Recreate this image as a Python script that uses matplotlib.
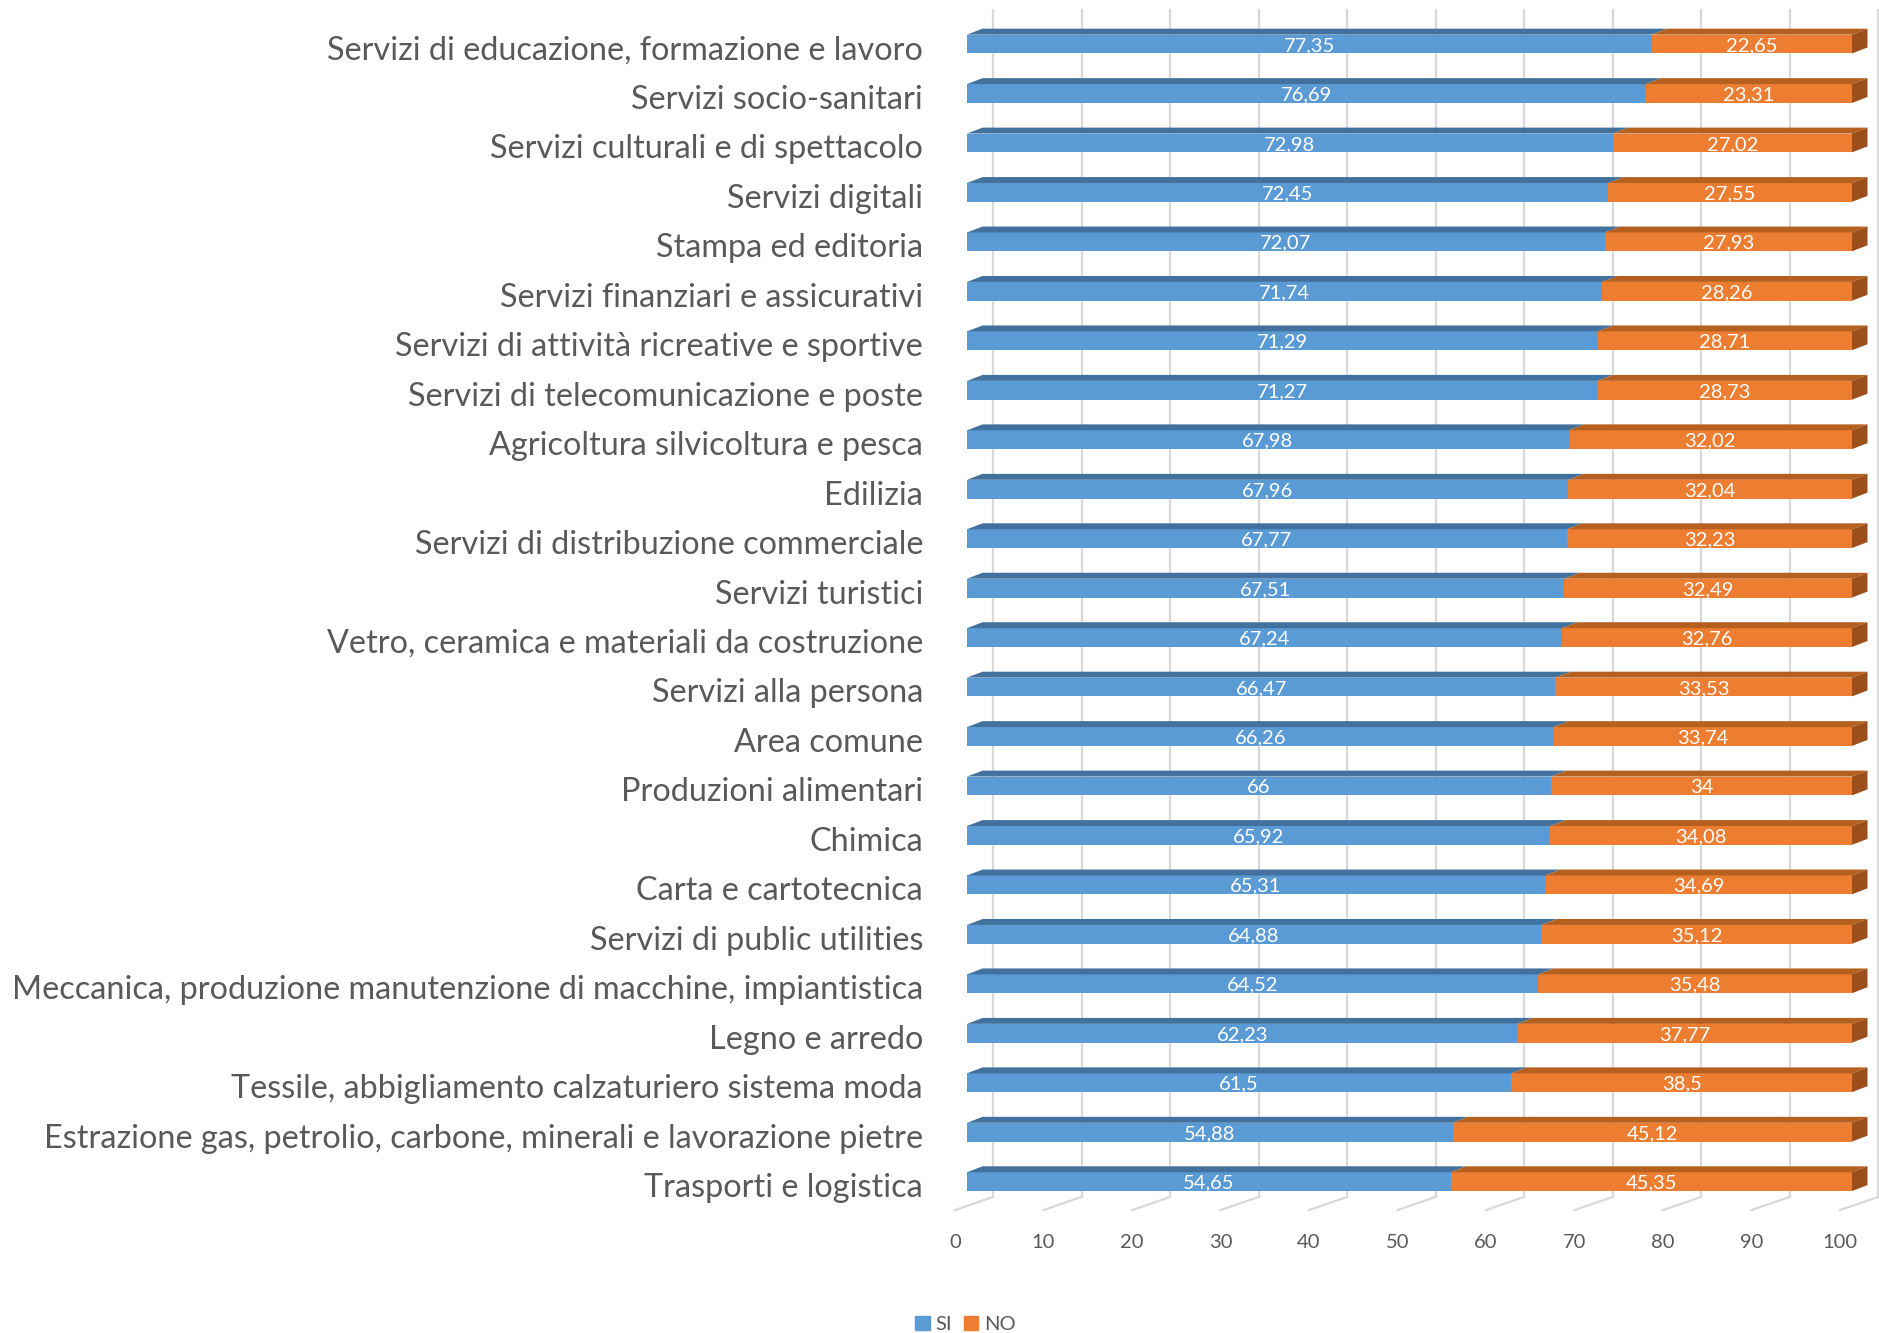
import matplotlib
matplotlib.use("Agg")
import matplotlib.pyplot as plt
from matplotlib.patches import Polygon, Patch

plt.rcParams["font.family"] = ["Lato", "DejaVu Sans"]

categories = [
    "Servizi di educazione, formazione e lavoro",
    "Servizi socio-sanitari",
    "Servizi culturali e di spettacolo",
    "Servizi digitali",
    "Stampa ed editoria",
    "Servizi finanziari e assicurativi",
    "Servizi di attività ricreative e sportive",
    "Servizi di telecomunicazione e poste",
    "Agricoltura silvicoltura e pesca",
    "Edilizia",
    "Servizi di distribuzione commerciale",
    "Servizi turistici",
    "Vetro, ceramica e materiali da costruzione",
    "Servizi alla persona",
    "Area comune",
    "Produzioni alimentari",
    "Chimica",
    "Carta e cartotecnica",
    "Servizi di public utilities",
    "Meccanica, produzione manutenzione di macchine, impiantistica",
    "Legno e arredo",
    "Tessile, abbigliamento calzaturiero sistema moda",
    "Estrazione gas, petrolio, carbone, minerali e lavorazione pietre",
    "Trasporti e logistica",
]
si = [77.35, 76.69, 72.98, 72.45, 72.07, 71.74, 71.29, 71.27, 67.98, 67.96,
      67.77, 67.51, 67.24, 66.47, 66.26, 66, 65.92, 65.31, 64.88, 64.52,
      62.23, 61.5, 54.88, 54.65]
no = [22.65, 23.31, 27.02, 27.55, 27.93, 28.26, 28.71, 28.73, 32.02, 32.04,
      32.23, 32.49, 32.76, 33.53, 33.74, 34, 34.08, 34.69, 35.12, 35.48,
      37.77, 38.5, 45.12, 45.35]
ticks = [0, 10, 20, 30, 40, 50, 60, 70, 80, 90, 100]

BLUE, BLUE_TOP = "#5B9BD5", "#41719C"
ORANGE, ORANGE_TOP, ORANGE_SIDE = "#ED7D31", "#B5601F", "#9C4F1B"
GRID = "#D9D9D9"
TEXT = "#595959"

# fake 3D depth, in data units
bar_h = 0.38
bar_dx, bar_dy = 1.75, 0.12
back_dx = 2.94
floor_front_dx = -1.36
floor_front_y, floor_back_y = 23.575, 23.31
grid_top = -0.69

fig = plt.figure(figsize=(18.79, 13.33), dpi=100)
ax = fig.add_axes([0, 0, 1, 1])
ax.set_xlim(-109.27, 103.05)
ax.set_ylim(26.06, -0.89)
ax.axis("off")

# back wall gridlines and floor lines
for v in ticks:
    ax.plot([v + back_dx, v + back_dx], [grid_top, floor_back_y], color=GRID, lw=1.6, zorder=1)
    ax.plot([v + back_dx, v + floor_front_dx], [floor_back_y, floor_front_y], color=GRID, lw=1.6, zorder=1)
    ax.text(v + floor_front_dx, 24.24, str(v), ha="center", va="center", fontsize=14.5, color=TEXT)

ys = list(range(len(categories)))
ax.barh(ys, si, height=bar_h, color=BLUE, zorder=3)
ax.barh(ys, no, left=si, height=bar_h, color=ORANGE, zorder=3)


def fmt(v):
    return f"{v:g}".replace(".", ",")


for i, (s, n) in enumerate(zip(si, no)):
    top = i - bar_h / 2
    bot = i + bar_h / 2
    ax.add_patch(Polygon([(0, top), (s, top), (s + bar_dx, top - bar_dy), (bar_dx, top - bar_dy)],
                         closed=True, facecolor=BLUE_TOP, edgecolor="none", zorder=3))
    ax.add_patch(Polygon([(s, top), (s + n, top), (s + n + bar_dx, top - bar_dy), (s + bar_dx, top - bar_dy)],
                         closed=True, facecolor=ORANGE_TOP, edgecolor="none", zorder=3))
    end = s + n
    ax.add_patch(Polygon([(end, top), (end + bar_dx, top - bar_dy), (end + bar_dx, bot - bar_dy), (end, bot)],
                         closed=True, facecolor=ORANGE_SIDE, edgecolor="none", zorder=3))
    ax.text(s / 2, i + 0.03, fmt(s), ha="center", va="center", color="white", fontsize=14.5, zorder=4)
    ax.text(s + n / 2, i + 0.03, fmt(n), ha="center", va="center", color="white", fontsize=14.5, zorder=4)
    ax.text(-4.97, i + 0.13, categories[i], ha="right", va="center", color=TEXT, fontsize=23.3)

handles = [Patch(color=BLUE), Patch(color=ORANGE)]
fig.legend(handles, ["SI", "NO"], loc="center", bbox_to_anchor=(0.514, 0.0065), ncol=2,
           frameon=False, handlelength=0.7, handleheight=0.7, columnspacing=0.6,
           handletextpad=0.3, fontsize=14.5, labelcolor=TEXT)

fig.savefig("out.png", dpi=100)
